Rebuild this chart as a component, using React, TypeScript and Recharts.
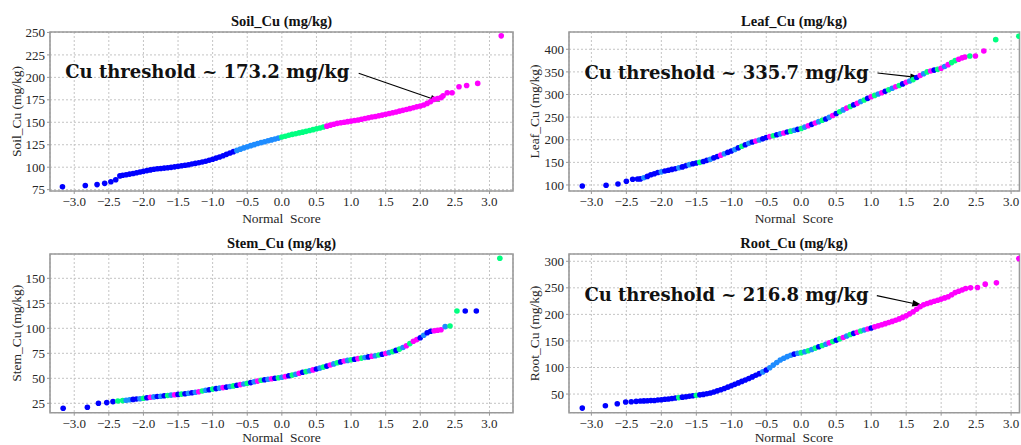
import React from 'react'
import {
  ScatterChart,
  Scatter,
  XAxis,
  YAxis,
  CartesianGrid,
  ReferenceArea,
  ReferenceLine,
  ReferenceDot,
} from 'recharts'

// normal scores shared by the dense middle part of every panel
const MID_SCORES = [
  -2.3, -2.25, -2.2, -2.15, -2.1, -2.05, -2.0, -1.95, -1.9, -1.85,
  -1.8, -1.75, -1.7, -1.65, -1.6, -1.55, -1.5, -1.45, -1.4, -1.35,
  -1.3, -1.25, -1.2, -1.15, -1.1, -1.05, -1.0, -0.95, -0.9, -0.85,
  -0.8, -0.75, -0.7, -0.65, -0.6, -0.55, -0.5, -0.45, -0.4, -0.35,
  -0.3, -0.25, -0.2, -0.15, -0.1, -0.05, 0.0, 0.05, 0.1, 0.15,
  0.2, 0.25, 0.3, 0.35, 0.4, 0.45, 0.5, 0.55, 0.6, 0.65,
  0.7, 0.75, 0.8, 0.85, 0.9, 0.95, 1.0, 1.05, 1.1, 1.15,
  1.2, 1.25, 1.3, 1.35, 1.4, 1.45, 1.5, 1.55, 1.6, 1.65,
  1.7, 1.75, 1.8, 1.85, 1.9, 1.95, 2.0, 2.05, 2.1, 2.15,
  2.2, 2.25, 2.3,
]

const X_TICKS = [-3, -2.5, -2, -1.5, -1, -0.5, 0, 0.5, 1, 1.5, 2, 2.5, 3]

// class colours: 0 blue, 1 light blue, 2 green, 3 magenta
const CLASS_COLORS = ['#0000ff', '#1e8cff', '#00ff80', '#ff00ff']

// ---- Soil_Cu ----
const SOIL_LOW: [number, number, number][] = [
  [-3.17, 78.3, 0], [-2.84, 79.6, 0], [-2.67, 80.6, 0], [-2.56, 82.0, 0],
  [-2.47, 83.8, 0], [-2.4, 86.1, 0], [-2.34, 90.3, 0],
]
const SOIL_MID = [
  91.0, 91.6, 92.3, 93.0, 93.8, 94.6, 95.4, 96.2, 97.0, 97.7,
  98.2, 98.6, 99.0, 99.4, 99.8, 100.4, 101.0, 101.6, 102.2, 102.8,
  103.5, 104.2, 105.0, 105.8, 106.6, 107.7, 108.9, 110.1, 111.4, 112.8,
  114.3, 115.8, 117.3, 118.7, 120.1, 121.5, 122.8, 124.0, 125.1, 126.3,
  127.4, 128.4, 129.4, 130.4, 131.4, 132.4, 133.5, 134.5, 135.5, 136.5,
  137.3, 138.2, 139.0, 139.9, 140.8, 141.8, 142.8, 143.7, 144.7, 145.7,
  146.8, 147.8, 148.8, 149.5, 150.1, 150.7, 151.3, 151.9, 152.6, 153.4,
  154.2, 155.0, 155.8, 156.5, 157.2, 158.0, 158.9, 159.7, 160.6, 161.5,
  162.4, 163.3, 164.2, 165.2, 166.2, 167.2, 168.2, 169.2, 171.0, 173.0,
  175.5, 176.5, 177.5,
]
const SOIL_HIGH: [number, number, number][] = [
  [2.33, 179.4, 3], [2.39, 182.8, 3], [2.46, 182.8, 3], [2.56, 189.5, 3],
  [2.67, 191.0, 3], [2.83, 193.3, 3], [3.17, 246.2, 3],
]
const SOIL_CLASS = [
  '0000000000', '0000000000', '0000000000', '0001111111', '1111112222',
  '2222222223', '3333333333', '3333333333', '3333333333', '333',
].join('')

// ---- Leaf_Cu ----
const LEAF_LOW: [number, number, number][] = [
  [-3.13, 97.8, 0], [-2.79, 99.3, 0], [-2.62, 102.2, 0], [-2.5, 108.2, 0],
  [-2.41, 112.6, 0], [-2.34, 113.2, 0],
]
const LEAF_MID = [
  113.5, 116, 119, 122.5, 125, 127.5, 129, 131, 132.5, 134.5,
  136, 138, 140, 142.5, 145, 147, 148.5, 150, 152, 154.5,
  157, 160, 163, 166, 169, 172, 175, 178.5, 182, 185.5,
  189, 192, 195, 197, 199.5, 202, 205, 207, 209, 211,
  213, 215, 217, 219, 221, 223, 225, 228, 231, 234,
  237, 240, 243, 246, 249.5, 253.5, 258, 262, 266, 270,
  273.5, 277, 280.5, 284.5, 288, 291.5, 295, 298, 301, 304,
  307, 310.5, 314, 317, 320, 323.5, 327, 330, 333, 337.5,
  342, 346, 350, 352, 354, 356, 358, 362, 366, 370.5,
  375, 378, 381,
]
const LEAF_HIGH: [number, number, number][] = [
  [2.34, 383.0, 3], [2.41, 385.3, 2], [2.49, 385.3, 3], [2.61, 396.3, 3],
  [2.78, 421.3, 2], [3.11, 428.7, 2],
]
const LEAF_CLASS = [
  '0100001000', '0100100200', '1003100102', '0103100320', '1302102130',
  '3120130213', '2031203213', '0213203120', '3123023132', '233',
].join('')

// ---- Stem_Cu ----
const STEM_LOW: [number, number, number][] = [
  [-3.16, 20.0, 0], [-2.81, 21.0, 0], [-2.65, 25.0, 0], [-2.53, 25.7, 0],
  [-2.44, 26.7, 0], [-2.37, 27.3, 2],
]
const STEM_MID = [
  27.7, 28.1, 28.5, 28.9, 29.3, 29.6, 30.0, 30.5, 31.0, 31.4,
  31.8, 32.1, 32.5, 32.8, 33.2, 33.5, 33.9, 34.2, 34.6, 35.0,
  35.5, 36.0, 36.6, 37.3, 38.0, 38.6, 39.2, 39.7, 40.2, 40.7,
  41.2, 41.8, 42.4, 43.0, 43.7, 44.3, 45.0, 45.7, 46.5, 47.2,
  48.0, 48.5, 49.0, 49.5, 50.0, 50.5, 51.0, 51.7, 52.5, 53.2,
  54.0, 55.0, 56.0, 56.7, 57.5, 58.4, 59.3, 60.2, 61.2, 62.2,
  63.3, 64.4, 65.5, 66.4, 67.3, 67.9, 68.5, 69.1, 69.7, 70.2,
  70.8, 71.4, 72.0, 72.6, 73.3, 74.0, 74.8, 75.7, 76.7, 77.9,
  79.2, 80.8, 82.5, 84.7, 87.0, 88.7, 90.5, 93.0, 95.5, 97.0,
  97.5, 98.0, 98.5,
]
const STEM_HIGH: [number, number, number][] = [
  [2.36, 101.7, 1], [2.43, 102.3, 2], [2.53, 117.3, 2], [2.65, 117.3, 0],
  [2.81, 117.3, 0], [3.15, 170.0, 2],
]
const STEM_CLASS = [
  '2110012031', '0102130201', '0132102013', '0120312013', '2013021302',
  '1302130120', '3120312032', '1031203120', '2132330100', '333',
].join('')

// ---- Root_Cu ----
const ROOT_LOW: [number, number, number][] = [
  [-3.13, 23.6, 0], [-2.8, 28.0, 0], [-2.63, 31.8, 0], [-2.51, 35.0, 0],
  [-2.43, 35.6, 0], [-2.36, 36.2, 0],
]
const ROOT_MID = [
  36.8, 37.1, 37.4, 37.7, 38.0, 38.7, 39.4, 40.1, 40.8, 41.6,
  42.5, 43.3, 44.2, 45.0, 45.9, 46.7, 47.6, 48.5, 49.4, 50.6,
  52.0, 53.9, 56.0, 58.2, 60.6, 63.0, 65.6, 68.3, 71.0, 73.8,
  76.6, 79.4, 82.3, 85.3, 88.4, 91.7, 95.3, 99.5, 104.5, 109.5,
  114.0, 117.5, 120.5, 123.0, 125.2, 126.7, 128.0, 129.6, 131.5, 134.0,
  136.5, 139.0, 141.5, 143.9, 146.3, 148.8, 151.3, 153.9, 156.5, 159.3,
  162.0, 164.3, 166.5, 168.6, 170.6, 172.6, 174.5, 176.5, 178.4, 180.5,
  182.6, 184.7, 186.8, 189.0, 191.5, 194.3, 197.5, 201.0, 205.0, 209.8,
  214.5, 218.0, 220.5, 222.6, 224.6, 226.7, 228.8, 231.0, 233.2, 237.0,
  241.0, 243.5, 246.0,
]
const ROOT_HIGH: [number, number, number][] = [
  [2.35, 248.8, 3], [2.42, 250.0, 3], [2.52, 250.6, 3], [2.63, 256.9, 3],
  [2.79, 259.4, 3], [3.11, 305.0, 3],
]
const ROOT_CLASS = [
  '0000000000', '0200002000', '0000000000', '0000010111', '1111012121',
  '2021320231', '2032130333', '3333333333', '3333333333', '333',
].join('')

type Pt = { s: number; v: number; c: number }

function buildPoints(low: number[][], mid: number[], high: number[][], cls: string): Pt[] {
  const pts: Pt[] = []
  low.forEach(([s, v, c]) => pts.push({ s, v, c }))
  MID_SCORES.forEach((s, i) => pts.push({ s, v: mid[i], c: Number(cls[i] ?? '0') }))
  high.forEach(([s, v, c]) => pts.push({ s, v, c }))
  return pts
}

const serif = 'Liberation Serif, Times New Roman, Times, serif'
const tickStyle = { fill: '#262626', fontSize: 13, fontFamily: serif }

const fmtX = (v: number) => (v < 0 ? '\u2212' + Math.abs(v).toFixed(1) : v.toFixed(1))

const Dot = (props: any) => (
  <circle cx={props.cx} cy={props.cy} r={2.8} fill={CLASS_COLORS[props.payload.c] ?? CLASS_COLORS[0]} />
)

function Arrow(props: any) {
  const { x1, y1, x2, y2 } = props
  const a = Math.atan2(y2 - y1, x2 - x1)
  const len = 10
  const half = 3.3
  const bx = x2 - len * Math.cos(a)
  const by = y2 - len * Math.sin(a)
  const px = -Math.sin(a) * half
  const py = Math.cos(a) * half
  return (
    <g>
      <line x1={x1} y1={y1} x2={bx} y2={by} stroke="#000" strokeWidth={1.1} />
      <polygon points={`${x2},${y2} ${bx + px},${by + py} ${bx - px},${by - py}`} fill="#000" />
    </g>
  )
}

type Note = { text: string; at: [number, number]; from: [number, number]; to: [number, number] }

type PanelSpec = {
  box: [number, number, number, number]
  margin: [number, number, number]
  yAxisWidth: number
  xDomain: [number, number]
  yDomain: [number, number]
  yTicks: number[]
  data: Pt[]
  note?: Note
}

function QQPanel({ p }: { p: PanelSpec }) {
  const note = p.note
  return (
    <div style={{ position: 'absolute', left: p.box[0], top: p.box[1] }}>
      <ScatterChart
        width={p.box[2]}
        height={p.box[3]}
        margin={{ top: p.margin[0], right: p.margin[1], bottom: p.margin[2], left: 0 }}
      >
        <CartesianGrid stroke="#c4c4c4" strokeDasharray="2 2" />
        <XAxis
          type="number"
          dataKey="s"
          domain={p.xDomain}
          ticks={X_TICKS}
          interval={0}
          allowDataOverflow
          tickFormatter={fmtX}
          height={30}
          tickSize={3}
          tickMargin={3}
          axisLine={false}
          tickLine={{ stroke: '#999' }}
          tick={tickStyle}
        />
        <YAxis
          type="number"
          dataKey="v"
          domain={p.yDomain}
          ticks={p.yTicks}
          interval={0}
          allowDataOverflow
          width={p.yAxisWidth}
          tickSize={3}
          tickMargin={2}
          axisLine={false}
          tickLine={{ stroke: '#999' }}
          tick={tickStyle}
        />
        <ReferenceArea
          x1={p.xDomain[0]}
          x2={p.xDomain[1]}
          y1={p.yDomain[0]}
          y2={p.yDomain[1]}
          fill="none"
          fillOpacity={0}
          stroke="#9a9a9a"
          strokeWidth={1.6}
        />
        <Scatter data={p.data} isAnimationActive={false} shape={Dot} />
        {note && (
          <ReferenceLine
            segment={[{ x: note.from[0], y: note.from[1] }, { x: note.to[0], y: note.to[1] }]}
            shape={Arrow}
          />
        )}
        {note && (
          <ReferenceDot
            x={note.at[0]}
            y={note.at[1]}
            r={1}
            shape={(d: any) => (
              <text
                x={d.cx}
                y={d.cy}
                fill="#111"
                fontSize={18}
                fontWeight="bold"
                fontFamily="DejaVu Serif, serif"
              >
                {note.text}
              </text>
            )}
          />
        )}
      </ScatterChart>
    </div>
  )
}

const PANELS: PanelSpec[] = [
  {
    box: [0, 0, 520, 225],
    margin: [32, 7, 4],
    yAxisWidth: 50,
    xDomain: [-3.35, 3.34],
    yDomain: [73.5, 250.5],
    yTicks: [75, 100, 125, 150, 175, 200, 225, 250],
    data: buildPoints(SOIL_LOW, SOIL_MID, SOIL_HIGH, SOIL_CLASS),
    note: { text: 'Cu threshold ~ 173.2 mg/kg', at: [-3.13, 198.9], from: [1.11, 204.5], to: [2.29, 173.2] },
  },
  {
    box: [520, 0, 501, 225],
    margin: [32, 1.5, 4],
    yAxisWidth: 49,
    xDomain: [-3.32, 3.12],
    yDomain: [86.7, 438.2],
    yTicks: [100, 150, 200, 250, 300, 350, 400],
    data: buildPoints(LEAF_LOW, LEAF_MID, LEAF_HIGH, LEAF_CLASS),
    note: { text: 'Cu threshold ~ 335.7 mg/kg', at: [-3.1, 335.2], from: [1.09, 347.6], to: [1.7, 337] },
  },
  {
    box: [0, 225, 520, 220],
    margin: [29, 7, 2.3],
    yAxisWidth: 50,
    xDomain: [-3.35, 3.34],
    yDomain: [15.6, 174.3],
    yTicks: [25, 50, 75, 100, 125, 150],
    data: buildPoints(STEM_LOW, STEM_MID, STEM_HIGH, STEM_CLASS),
  },
  {
    box: [520, 225, 501, 220],
    margin: [29, 1.5, 2.3],
    yAxisWidth: 49,
    xDomain: [-3.32, 3.12],
    yDomain: [14.9, 313.7],
    yTicks: [50, 100, 150, 200, 250, 300],
    data: buildPoints(ROOT_LOW, ROOT_MID, ROOT_HIGH, ROOT_CLASS),
    note: { text: 'Cu threshold ~ 216.8 mg/kg', at: [-3.1, 225.4], from: [1.08, 235.3], to: [1.73, 217] },
  },
]

const TITLES = ['Soil_Cu (mg/kg)', 'Leaf_Cu (mg/kg)', 'Stem_Cu (mg/kg)', 'Root_Cu (mg/kg)']

export default function App() {
  const cx = [281.5, 794, 281.5, 794]
  const titleY = [25.5, 25.5, 247.5, 247.5]
  const ylx = [20.8, 539, 20.8, 539]
  const yly = [111.5, 111.5, 333.3, 333.5]
  const xly = [222.5, 222.5, 441.5, 441.5]
  return (
    <div style={{ position: 'absolute', left: 0, top: 0, width: 1021, height: 445, background: '#fff', overflow: 'hidden' }}>
      {PANELS.map((p, i) => (
        <QQPanel key={i} p={p} />
      ))}
      <svg width={1021} height={445} style={{ position: 'absolute', left: 0, top: 0, pointerEvents: 'none' }}>
        {TITLES.map((t, i) => (
          <g key={t}>
            <text x={cx[i]} y={titleY[i]} textAnchor="middle" fontFamily={serif} fontWeight="bold" fontSize={14.5} fill="#111">
              {t}
            </text>
            <text
              transform={`translate(${ylx[i]},${yly[i]}) rotate(-90)`}
              textAnchor="middle"
              fontFamily={serif}
              fontSize={13.5}
              fill="#262626"
            >
              {t}
            </text>
            <text x={cx[i]} y={xly[i]} textAnchor="middle" fontFamily={serif} fontSize={13.5} fill="#262626">
              {'Normal\u00a0\u00a0Score'}
            </text>
          </g>
        ))}
      </svg>
    </div>
  )
}
